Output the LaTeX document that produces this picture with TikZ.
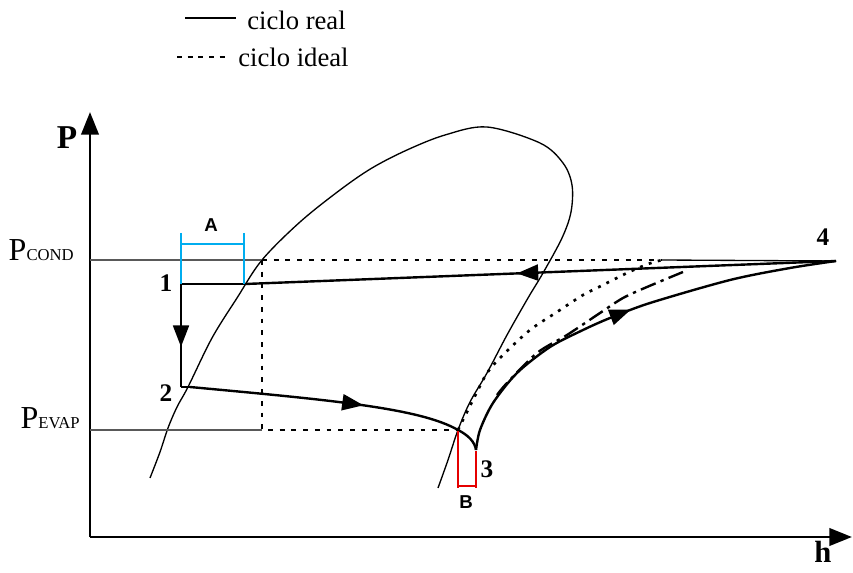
\documentclass[tikz,border=0pt]{standalone}
\usepackage{fontspec}
\setmainfont{Liberation Serif}
\newfontfamily\labsans{Liberation Sans}
\usetikzlibrary{arrows.meta,decorations.markings}
\tikzset{
  dome/.style={line width=1pt, black},
  axisline/.style={line width=2.2pt, -{Triangle[length=17pt,width=13pt]}},
  refline/.style={line width=1.6pt, black!65},
  realline/.style={line width=1.8pt, black},
  realthin/.style={line width=1.3pt, black},
  thinsolid/.style={line width=1pt, black},
  idealline/.style={line width=1.8pt, dash pattern=on 3.6pt off 5.2pt},
  idealdots/.style={line width=2pt, dash pattern=on 2.2pt off 4.8pt},
  dashdotline/.style={line width=1.8pt, dash pattern=on 12pt off 4pt on 2.5pt off 4pt},
  arrowat/.style={postaction={decorate}, decoration={markings,
      mark=at position #1 with {\arrow{Triangle[length=16pt,width=12pt]}}}},
  numlab/.style={font=\fontsize{19}{22}\selectfont\bfseries, inner sep=0pt},
  brlab/.style={font=\labsans\fontsize{14}{16}\selectfont\bfseries, inner sep=0pt},
  leglab/.style={font=\fontsize{20}{24}\selectfont, inner sep=0pt, anchor=base west},
  cyanbr/.style={line width=1.2pt, cyan},
  redbr/.style={line width=1.2pt, red!90!black}
}
\begin{document}
\begin{tikzpicture}[x=0.75pt,y=-0.75pt]
\useasboundingbox (0,0) rectangle (853,573);

% key points
\coordinate (O) at (90,537);
\coordinate (ytip) at (90,112);
\coordinate (xtip) at (852,537);
\coordinate (pcL) at (90,260);
\coordinate (peL) at (90,430);
\coordinate (pc) at (262,260);
\coordinate (ie) at (262,430);
\coordinate (i4) at (662,260);
\coordinate (p1) at (181,284);
\coordinate (p1s) at (245,284);
\coordinate (p2) at (181,387);
\coordinate (p2s) at (190,387);
\coordinate (pe) at (458,430);
\coordinate (p3) at (476,450);
\coordinate (p4) at (836,261);
\coordinate (dd1) at (497,395);
\coordinate (dd2) at (683,272);

% saturation dome
\draw[dome] plot[smooth, tension=0.55] coordinates {
  (150,478) (160,452) (168,428) (177,407) (188,387) (212,338) (237,298)
  (262,260) (300,222) (340,190) (372,168) (407,150) (445,135) (487,127)
  (540,143) (563,163) (572,185) (571,212) (562,238) (543,273) (528,298)
  (507,335) (487,373) (470,402) (458,430) (448,460) (438,488)};

% axes
\draw[axisline] (O) -- (ytip);
\draw[axisline] (O) -- (xtip);

% pressure reference lines
\draw[refline] (pcL) -- (pc);
\draw[refline] (peL) -- (ie);

% ideal cycle
\draw[idealline] (pc) -- (i4);
\draw[idealline] (pc) -- (ie) -- (pe);
\draw[thinsolid] (i4) -- (p4);
\draw[idealdots] plot[smooth] coordinates {(pe) (472,402) (487,373) (503,355)
  (530,330) (557,312) (583,295) (603,285) (627,273) (648,264) (i4)};
\draw[dashdotline] plot[smooth] coordinates {(dd1) (507,383) (537,353) (567,335)
  (600,313) (623,298) (647,287) (dd2)};

% real cycle
\draw[realline, arrowat=0.54] (p4) -- (p1s);
\draw[realthin] (p1s) -- (p1);
\draw[realthin, arrowat=0.61] (p1) -- (p2);
\draw[realthin] (p2) -- (p2s);
\draw[realline, arrowat=0.64] (p2s) .. controls (330,400) and (420,408) .. (pe);
\draw[realline] (pe) .. controls (468,435) and (475,442) .. (p3);
\draw[realline, arrowat=0.51] plot[smooth] coordinates {(p3) (480,430) (493,403)
  (517,373) (550,347) (583,330) (610,318) (650,303) (730,280) (790,268) (p4)};

% brackets A and B
\coordinate (a1) at (181,233); \coordinate (a2) at (181,284);
\coordinate (a3) at (244,233); \coordinate (a4) at (244,284);
\coordinate (a5) at (181,244); \coordinate (a6) at (244,244);
\draw[cyanbr] (a1) -- (a2);
\draw[cyanbr] (a3) -- (a4);
\draw[cyanbr] (a5) -- (a6);
\coordinate (b1) at (458,431); \coordinate (b2) at (458,488);
\coordinate (b3) at (476,451); \coordinate (b4) at (476,488);
\coordinate (b5) at (458,486); \coordinate (b6) at (476,486);
\draw[redbr] (b1) -- (b2);
\draw[redbr] (b3) -- (b4);
\draw[redbr] (b5) -- (b6);
\node[brlab] (labA) at (211,225) {A};
\node[brlab] (labB) at (466,502) {B};

% point labels
\node[numlab] (lab1) at (166,283) {1};
\node[numlab] (lab2) at (166,393) {2};
\node[numlab] (lab3) at (487,469) {3};
\node[numlab] (lab4) at (823,237) {4};

% axis labels
\node[font=\fontsize{25}{28}\selectfont\bfseries, inner sep=0pt] (labP) at (67,138) {P};
\node[font=\fontsize{23}{26}\selectfont\bfseries, inner sep=0pt] (labh) at (823,552) {h};
\node[inner sep=0pt, anchor=base east] (labPc) at (74,261)
  {\fontsize{24}{26}\selectfont P\fontsize{12.5}{13}\selectfont COND};
\node[inner sep=0pt, anchor=base east] (labPe) at (80,428)
  {\fontsize{24}{26}\selectfont P\fontsize{12.5}{13}\selectfont EVAP};

% legend
\coordinate (lg1) at (185,18); \coordinate (lg2) at (236,18);
\coordinate (lg3) at (177,57); \coordinate (lg4) at (230,57);
\draw[line width=2.2pt] (lg1) -- (lg2);
\draw[line width=2pt, dash pattern=on 3.8pt off 4.2pt] (lg3) -- (lg4);
\node[leglab] (legR) at (247,30) {ciclo real};
\node[leglab] (legI) at (238,67) {ciclo ideal};
\end{tikzpicture}
\end{document}
